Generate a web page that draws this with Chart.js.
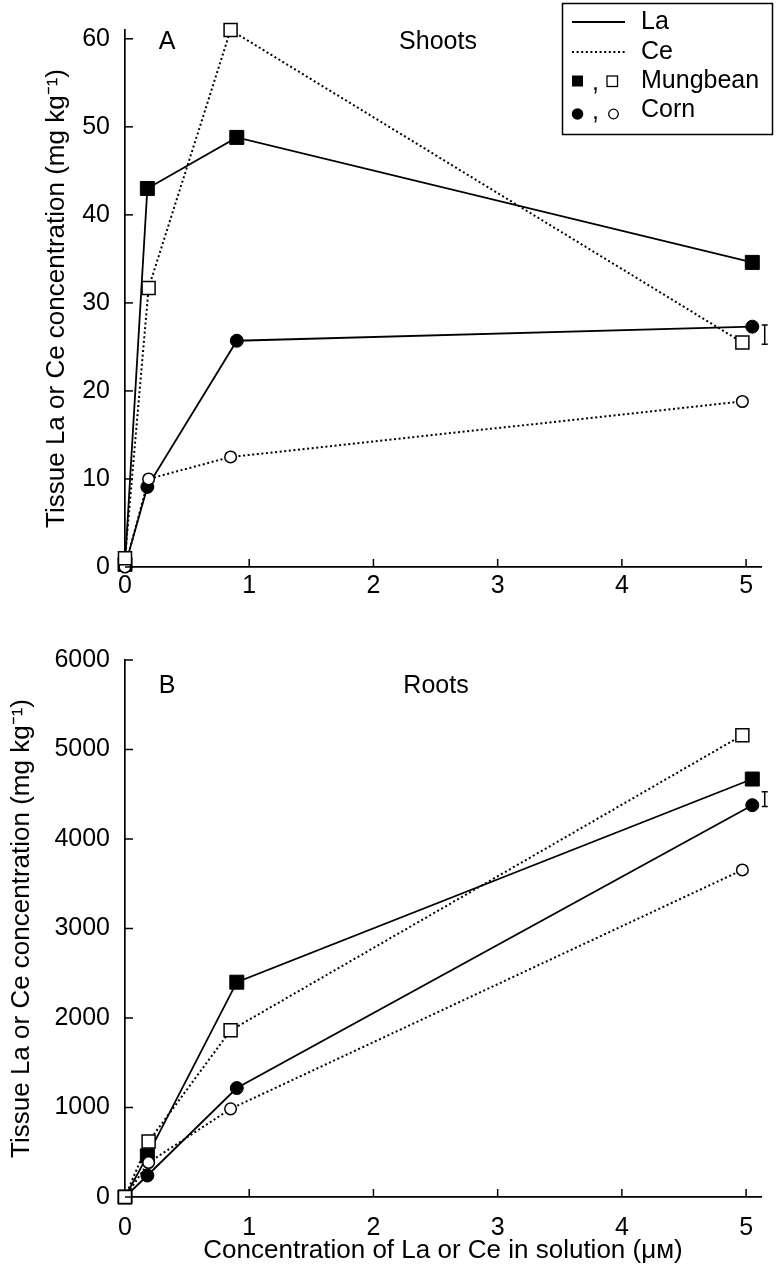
<!DOCTYPE html>
<html><head><meta charset="utf-8">
<script src="https://cdn.jsdelivr.net/npm/chart.js@4.4.1/dist/chart.umd.min.js"></script>
<style>
html,body{margin:0;padding:0;background:#fff;}
#wrap{position:relative;width:778px;height:1280px;overflow:hidden;}
#wa{position:absolute;left:0;top:0;width:778px;height:610px;}
#wb{position:absolute;left:0;top:620px;width:778px;height:660px;}
</style></head><body>
<div id="wrap"><div id="wa"><canvas id="ca"></canvas></div><div id="wb"><canvas id="cb"></canvas></div></div>
<script>
// ---- data ----
const xLa = [0, 0.18, 0.9, 5.05];
const xCe = [0, 0.19, 0.85, 4.97];
// Panel A: shoots (mg kg-1)
const shootMungLa = [0.3, 43.0, 48.8, 34.6];
const shootMungCe = [1.0, 31.7, 61.0, 25.5];
const shootCornLa = [0.1, 9.1, 25.7, 27.3];
const shootCornCe = [0.0, 10.0, 12.5, 18.8];
// Panel B: roots (mg kg-1)
const rootMungLa = [0, 460, 2400, 4670];
const rootMungCe = [0, 620, 1862, 5160];
const rootCornLa = [0, 240, 1217, 4378];
const rootCornCe = [0, 385, 985, 3654];
// error bars [x, low, high]
const errShoot = [5.15, 25.3, 27.5];
const errRoot = [5.15, 4364, 4527];
// ticks
const xTicks = [0, 1, 2, 3, 4, 5];
const yTicksA = [0, 10, 20, 30, 40, 50, 60];
const yTicksB = [0, 1000, 2000, 3000, 4000, 5000, 6000];
const legendLabels = ['La', 'Ce', 'Mungbean', 'Corn'];
const yTitle = 'Tissue La or Ce concentration (mg kg\u207B\u00B9)';
const xTitle = 'Concentration of La or Ce in solution (\u03BC\u1D0D)';

const FONT = 'Liberation Sans';
const DOT = [2, 2.6];

function pts(xs, ys){ return xs.map((x,i)=>({x:x, y:ys[i]})); }

function datasets(mLa, mCe, cLa, cCe){
  return [
    {label:'Mungbean Ce', data:pts(xCe,mCe), order:0, borderColor:'#000', borderWidth:2, borderDash:DOT,
     pointStyle:'rect', pointRadius:9.2, pointBackgroundColor:'#fff', pointBorderColor:'#000', pointBorderWidth:1.5},
    {label:'Corn Ce', data:pts(xCe,cCe), order:1, borderColor:'#000', borderWidth:2, borderDash:DOT,
     pointStyle:'circle', pointRadius:5.8, pointBackgroundColor:'#fff', pointBorderColor:'#000', pointBorderWidth:1.5},
    {label:'Mungbean La', data:pts(xLa,mLa), order:2, borderColor:'#000', borderWidth:1.8,
     pointStyle:'rect', pointRadius:9.9, pointBackgroundColor:'#000', pointBorderColor:'#000', pointBorderWidth:1},
    {label:'Corn La', data:pts(xLa,cLa), order:3, borderColor:'#000', borderWidth:1.8,
     pointStyle:'circle', pointRadius:6.5, pointBackgroundColor:'#000', pointBorderColor:'#000', pointBorderWidth:1}
  ].map(d=>Object.assign(d,{showLine:true, fill:false, tension:0, clip:false, pointHoverRadius:d.pointRadius}));
}

const deco = {
  id:'deco',
  afterDatasetsDraw(chart, args, o){
    const ctx = chart.ctx, xs = chart.scales.x, ys = chart.scales.y, ca = chart.chartArea;
    ctx.save();
    ctx.strokeStyle = '#000'; ctx.fillStyle = '#000'; ctx.lineWidth = 1.5; ctx.setLineDash([]);
    // inward tick marks
    ys.ticks.forEach(t=>{ const py = ys.getPixelForValue(t.value);
      ctx.beginPath(); ctx.moveTo(ca.left, py); ctx.lineTo(ca.left+8, py); ctx.stroke(); });
    xs.ticks.forEach(t=>{ if (t.value === 0) return; const px = xs.getPixelForValue(t.value);
      ctx.beginPath(); ctx.moveTo(px, ca.bottom); ctx.lineTo(px, ca.bottom-8); ctx.stroke(); });
    // error bar
    const e = o.err, ex = xs.getPixelForValue(e[0]), y1 = ys.getPixelForValue(e[1]), y2 = ys.getPixelForValue(e[2]);
    ctx.beginPath(); ctx.moveTo(ex, y1); ctx.lineTo(ex, y2);
    ctx.moveTo(ex-3, y1); ctx.lineTo(ex+3, y1); ctx.moveTo(ex-3, y2); ctx.lineTo(ex+3, y2); ctx.stroke();
    // panel letter + name
    ctx.font = '25px "'+FONT+'"'; ctx.textAlign = 'center'; ctx.textBaseline = 'middle';
    ctx.fillText(o.letter, o.letterX, o.labelY);
    ctx.fillText(o.name, o.nameX, o.labelY);
    if (o.legend) {
      ctx.lineWidth = 1.5; ctx.strokeRect(562.5, 3.5, 210, 131);
      const rows = [22, 52, 81, 110];
      ctx.lineWidth = 1.8;
      ctx.beginPath(); ctx.moveTo(572, rows[0]); ctx.lineTo(625, rows[0]); ctx.stroke();
      ctx.lineWidth = 2;
      ctx.setLineDash(DOT);
      ctx.beginPath(); ctx.moveTo(572, rows[1]); ctx.lineTo(625, rows[1]); ctx.stroke();
      ctx.setLineDash([]);
      // mungbean symbols
      ctx.fillRect(572, rows[2]-5.5, 11, 11);
      ctx.lineWidth = 1.3; ctx.strokeRect(607, rows[2]-5, 10.5, 10.5);
      // corn symbols
      ctx.beginPath(); ctx.arc(577.5, rows[3]+4, 5.8, 0, Math.PI*2); ctx.fill();
      ctx.beginPath(); ctx.arc(613.5, rows[3]+4, 4.8, 0, Math.PI*2); ctx.stroke();
      ctx.textAlign = 'left';
      ctx.fillText(',', 592, rows[2]+2);
      ctx.fillText(',', 592, rows[3]+2);
      legendLabels.forEach((l,i)=>ctx.fillText(l, 641, rows[i]));
    }
    ctx.restore();
  }
};

function makeChart(id, dsets, yMax, yTicks, yTitlePad, xAxisH, showXTitle, topPad, xPad, decoOpts){
  return new Chart(document.getElementById(id), {
    type:'scatter',
    data:{datasets:dsets},
    plugins:[deco],
    options:{
      responsive:true, maintainAspectRatio:false, animation:false,
      layout:{padding:{left:0, right:17, top:topPad, bottom:0}},
      plugins:{legend:{display:false}, tooltip:{enabled:false}, deco:decoOpts},
      scales:{
        x:{type:'linear', min:0, max:5.12,
           afterBuildTicks:s=>{ s.ticks = xTicks.map(v=>({value:v})); },
           afterFit:s=>{ s.height = xAxisH; },
           grid:{display:false, drawTicks:false}, border:{display:true, color:'#000', width:1.7},
           ticks:{color:'#000', font:{family:FONT, size:25}, padding:xPad, maxRotation:0, callback:v=>String(v)},
           title:{display:showXTitle, text:xTitle, color:'#000', font:{family:FONT, size:26}, padding:{top:0,bottom:14}}},
        y:{type:'linear', min:0, max:yMax,
           afterBuildTicks:s=>{ s.ticks = yTicks.map(v=>({value:v})); },
           afterFit:s=>{ s.width = 125; },
           grid:{display:false, drawTicks:false}, border:{display:true, color:'#000', width:1.7},
           ticks:{color:'#000', font:{family:FONT, size:25}, padding:15, callback:v=>String(v)},
           title:{display:true, text:yTitle, color:'#000', font:{family:FONT, size:26}, padding:{top:yTitlePad,bottom:0}}}
      }
    }
  });
}

makeChart('ca', datasets(shootMungLa, shootMungCe, shootCornLa, shootCornCe), 61, yTicksA, 41, 43, false, 29, 4,
  {err:errShoot, letter:'A', name:'Shoots', letterX:167, nameX:438, labelY:42, legend:true});
makeChart('cb', datasets(rootMungLa, rootMungCe, rootCornLa, rootCornCe), 6000, yTicksB, 6, 83, true, 40, 16,
  {err:errRoot, letter:'B', name:'Roots', letterX:167, nameX:436, labelY:66, legend:false});
</script>
</body></html>
